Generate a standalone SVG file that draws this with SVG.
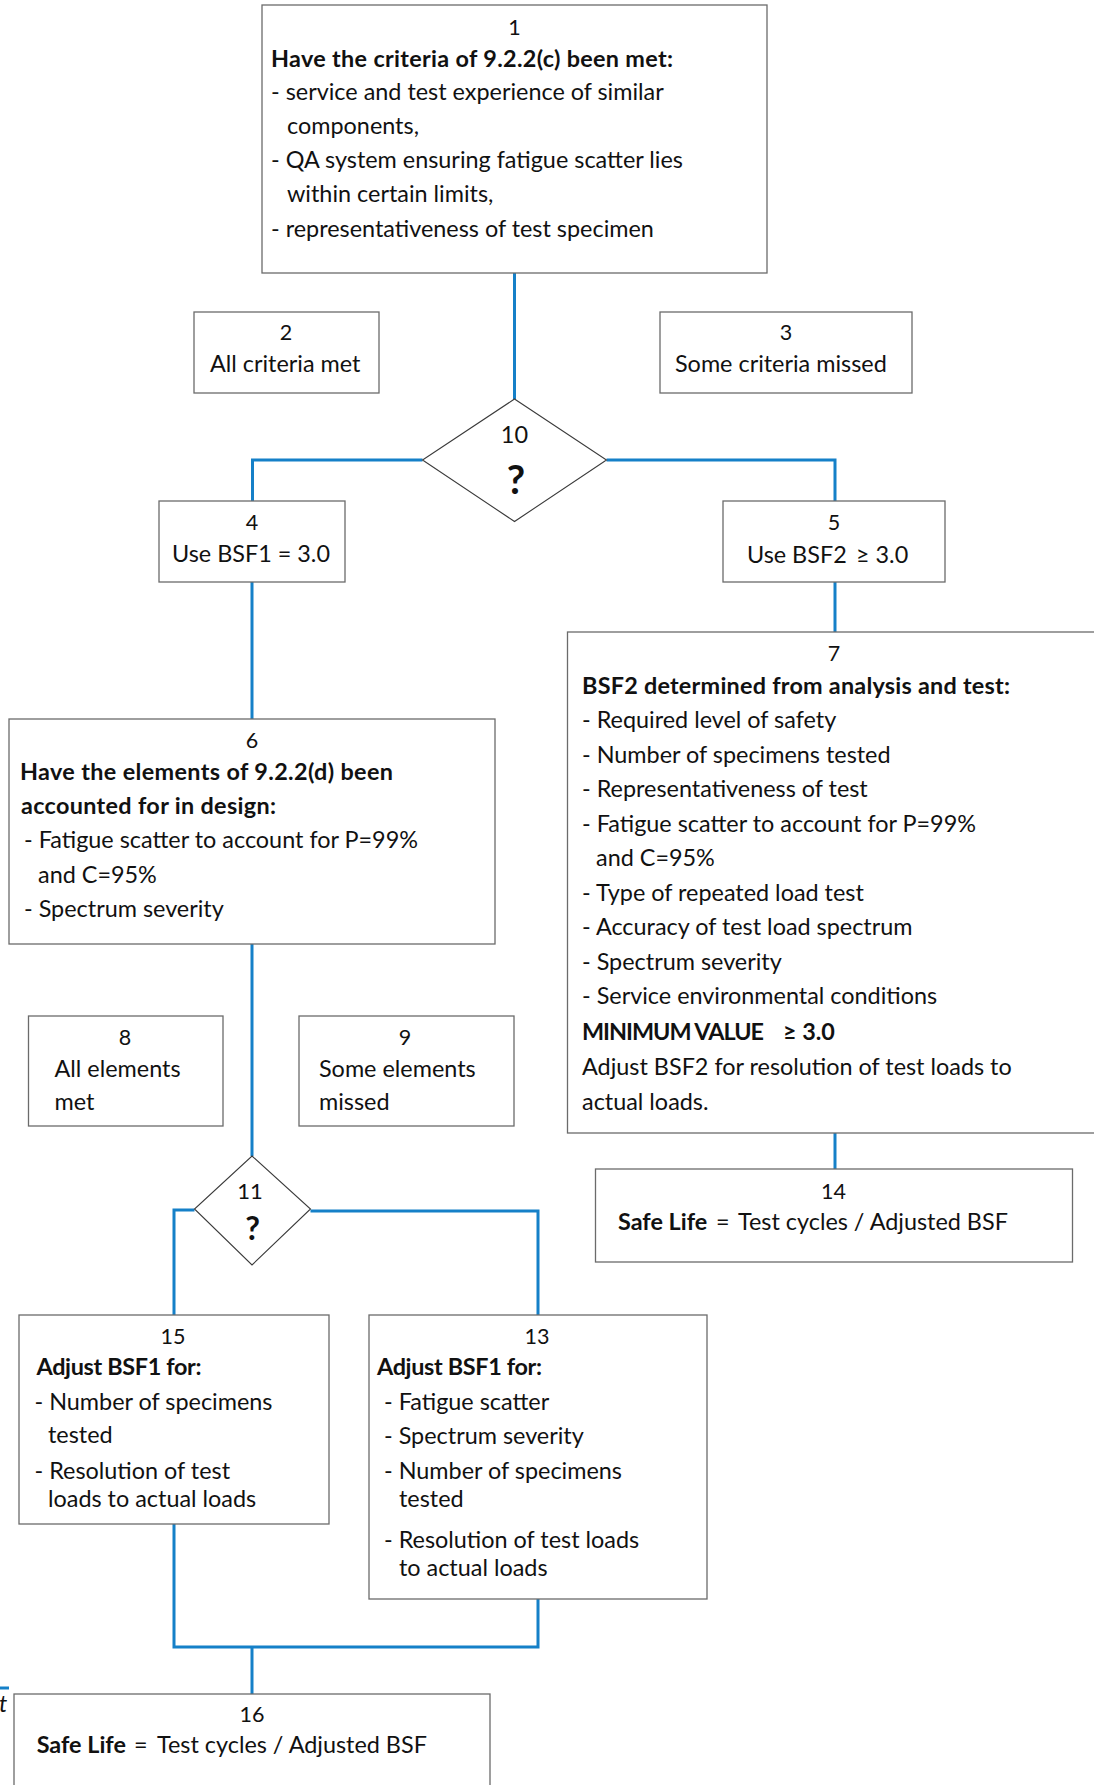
<svg xmlns="http://www.w3.org/2000/svg" width="1094" height="1785" viewBox="0 0 1094 1785">
<style>
.bg{fill:#ffffff}
.box{fill:#ffffff;stroke:#6b6b6b;stroke-width:1.3}
.dia{fill:#ffffff;stroke:#3a3a3a;stroke-width:1.1}
.conn{fill:none;stroke:#1580c8;stroke-width:3}
text{font-family:Lato,"Liberation Sans",sans-serif;font-size:23.4px;fill:#111111}
.b{font-weight:bold}
.c{text-anchor:middle}
.n{font-size:21.5px}
.q{font-weight:bold;font-size:40px}
.q2{font-weight:bold;font-size:32px}
.dn{font-size:23.5px}
</style>
<rect class="bg" x="0" y="0" width="1094" height="1785"/>
<g id="connectors">
<path class="conn" d="M514.5,273 V399"/>
<path class="conn" d="M422.5,460 H252.5 V501"/>
<path class="conn" d="M606.5,460 H835 V501"/>
<path class="conn" d="M252,582 V719"/>
<path class="conn" d="M835,582 V632"/>
<path class="conn" d="M252,944 V1156"/>
<path class="conn" d="M835,1133 V1169"/>
<path class="conn" d="M194.5,1210 H174 V1315"/>
<path class="conn" d="M310.5,1211 H538 V1315"/>
<path class="conn" d="M174,1524 V1647 H538 V1599"/>
<path class="conn" d="M252,1647 V1694"/>
<path class="conn" d="M0,1688 H9"/>
</g>
<g id="node1">
<rect class="box" x="262" y="5" width="505" height="268"/>
<text class="c n" x="514.5" y="35">1</text>
<text class="b" x="271" y="67" textLength="402">Have the criteria of 9.2.2(c) been met:</text>
<text x="271" y="100">- service and test experience of similar</text>
<text x="287" y="134">components,</text>
<text x="271" y="168">- QA system ensuring fatigue scatter lies</text>
<text x="287" y="202">within certain limits,</text>
<text x="271" y="237">- representativeness of test specimen</text>
</g>
<g id="node2">
<rect class="box" x="194" y="312" width="185" height="81"/>
<text class="c n" x="286" y="340">2</text>
<text x="210" y="372">All criteria met</text>
</g>
<g id="node3">
<rect class="box" x="660" y="312" width="252" height="81"/>
<text class="c n" x="786" y="340">3</text>
<text x="675" y="372">Some criteria missed</text>
</g>
<g id="node10">
<polygon class="dia" points="514.5,399 606.5,460 514.5,521.5 422.5,460"/>
<text class="c dn" x="514.5" y="443">10</text>
<text class="c q" x="516" y="494">?</text>
</g>
<g id="node4">
<rect class="box" x="159" y="501" width="186" height="81"/>
<text class="c n" x="252" y="530">4</text>
<text class="c" x="251" y="562">Use BSF1 = 3.0</text>
</g>
<g id="node5">
<rect class="box" x="723" y="501" width="222" height="81"/>
<text class="c n" x="834" y="530">5</text>
<text x="747" y="563">Use BSF2</text>
<text x="856" y="563">≥ 3.0</text>
</g>
<g id="node6">
<rect class="box" x="9" y="719" width="486" height="225"/>
<text class="c n" x="252" y="748">6</text>
<text class="b" x="20" y="780" textLength="373">Have the elements of 9.2.2(d) been</text>
<text class="b" x="21" y="814" textLength="255">accounted for in design:</text>
<text x="24" y="848">- Fatigue scatter to account for P=99%</text>
<text x="38" y="883">and C=95%</text>
<text x="24" y="917">- Spectrum severity</text>
</g>
<g id="node7">
<rect class="box" x="567.5" y="632" width="540" height="501"/>
<text class="c n" x="834" y="661">7</text>
<text class="b" x="582" y="694" textLength="428">BSF2 determined from analysis and test:</text>
<text x="582" y="728">- Required level of safety</text>
<text x="582" y="763">- Number of specimens tested</text>
<text x="582" y="797">- Representativeness of test</text>
<text x="582" y="832">- Fatigue scatter to account for P=99%</text>
<text x="596" y="866">and C=95%</text>
<text x="582" y="901">- Type of repeated load test</text>
<text x="582" y="935">- Accuracy of test load spectrum</text>
<text x="582" y="970">- Spectrum severity</text>
<text x="582" y="1004">- Service environmental conditions</text>
<text class="b" x="582" y="1040" textLength="182">MINIMUM VALUE</text>
<text class="b" x="783" y="1040">≥ 3.0</text>
<text x="582" y="1075">Adjust BSF2 for resolution of test loads to</text>
<text x="582" y="1110">actual loads.</text>
</g>
<g id="node8">
<rect class="box" x="28.5" y="1016" width="194.5" height="110"/>
<text class="c n" x="125" y="1045">8</text>
<text x="54.5" y="1077">All elements</text>
<text x="54.5" y="1110">met</text>
</g>
<g id="node9">
<rect class="box" x="299" y="1016" width="215" height="110"/>
<text class="c n" x="405" y="1045">9</text>
<text x="319" y="1077">Some elements</text>
<text x="319" y="1110">missed</text>
</g>
<g id="node11">
<polygon class="dia" points="252,1156 310.5,1209 252,1265 194.5,1209"/>
<text class="c" x="250" y="1199" style="font-size:22px">11</text>
<text class="c q2" x="252.5" y="1240">?</text>
</g>
<g id="node14">
<rect class="box" x="595.5" y="1169" width="477" height="93"/>
<text class="c n" x="833.5" y="1198.5">14</text>
<text x="618" y="1229.5"><tspan class="b">Safe Life</tspan><tspan x="716">=</tspan><tspan x="738">Test cycles / Adjusted BSF</tspan></text>
</g>
<g id="node15">
<rect class="box" x="19" y="1315" width="310" height="209"/>
<text class="c n" x="173" y="1344">15</text>
<text class="b" x="36.5" y="1375" textLength="165">Adjust BSF1 for:</text>
<text x="34.5" y="1410">- Number of specimens</text>
<text x="48" y="1443">tested</text>
<text x="34.5" y="1479">- Resolution of test</text>
<text x="48" y="1507">loads to actual loads</text>
</g>
<g id="node13">
<rect class="box" x="369" y="1315" width="338" height="284"/>
<text class="c n" x="537" y="1344">13</text>
<text class="b" x="377" y="1375" textLength="165">Adjust BSF1 for:</text>
<text x="384" y="1410">- Fatigue scatter</text>
<text x="384" y="1444">- Spectrum severity</text>
<text x="384" y="1479">- Number of specimens</text>
<text x="399" y="1507">tested</text>
<text x="384" y="1548">- Resolution of test loads</text>
<text x="399" y="1576">to actual loads</text>
</g>
<g id="node16">
<rect class="box" x="14" y="1694" width="476" height="100"/>
<text class="c n" x="252" y="1722">16</text>
<text x="36.7" y="1753"><tspan class="b">Safe Life</tspan><tspan x="134">=</tspan><tspan x="157">Test cycles / Adjusted BSF</tspan></text>
</g>
<text x="-1" y="1712" style="font-style:italic">t</text>
</svg>
